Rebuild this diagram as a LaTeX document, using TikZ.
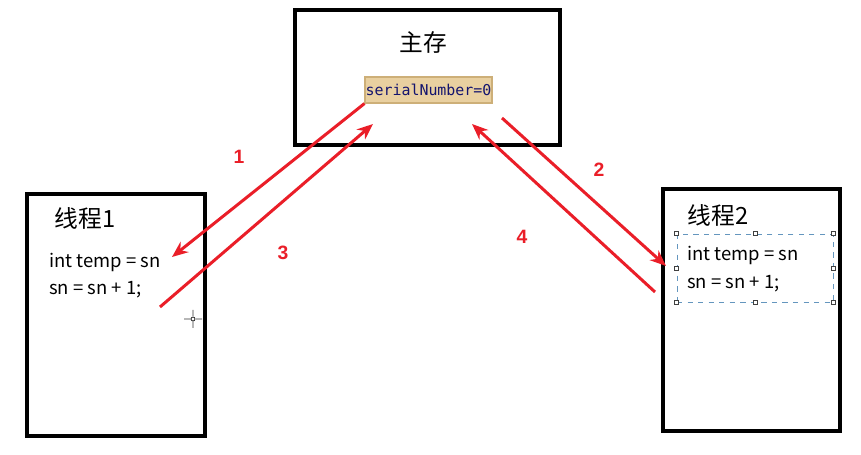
\documentclass[tikz,border=0pt]{standalone}
\usepackage{fontspec}
\setmainfont{Liberation Sans}
\setmonofont{DejaVu Sans Mono}
\newfontfamily\cjk{Noto Sans CJK SC}
\usetikzlibrary{arrows.meta,positioning}
\definecolor{signal}{RGB}{234,30,40}
\definecolor{sand}{RGB}{233,208,160}
\definecolor{sanddark}{RGB}{205,175,120}
\definecolor{navy}{RGB}{20,20,110}
\definecolor{selblue}{RGB}{100,150,190}
\tikzset{
  >={Stealth[length=3.2mm,width=2.6mm]},
  frame/.style={draw=black,line width=2.3pt,inner sep=0pt},
  title/.style={font=\cjk\fontsize{13.5}{16}\selectfont,inner sep=0pt},
  code/.style={font=\cjk\fontsize{10.5}{12}\selectfont,anchor=west,inner sep=0pt},
  flow/.style={->,draw=signal,line width=1.7pt},
  num/.style={font=\bfseries\fontsize{11}{13}\selectfont,text=signal,inner sep=0pt},
  var/.style={fill=sand,draw=sanddark,line width=0.6pt,text=navy,
    font=\ttfamily\fontsize{8.5}{10}\selectfont,inner sep=0pt,
    minimum width=2.54cm,minimum height=0.52cm},
  sel/.style={draw=selblue,dashed,line width=0.5pt,inner sep=0pt},
  grip/.style={draw=black!75,fill=white,line width=0.4pt,inner sep=0pt,minimum size=0.8mm},
}
\begin{document}
\begin{tikzpicture}[x=0.02cm,y=-0.02cm]
  \useasboundingbox[fill=white] (0,0) rectangle (861,455);
  % main memory
  \node[frame,minimum width=5.3cm,minimum height=2.7cm] (mem) at (427.5,77.5) {};
  \node[title] (memtitle) at (423,42) {主存};
  \node[var] (sn) at (428.5,90) {serialNumber=0};
  % thread 1
  \node[frame,minimum width=3.56cm,minimum height=4.84cm] (t1) at (116,315) {};
  \node[title] (t1title) at (85,218) {线程1};
  \node[code] (t1read) at (49,262) {int temp = sn};
  \node[code] (t1inc) at (49,290) {sn = sn + 1;};
  % thread 2
  \node[frame,minimum width=3.54cm,minimum height=4.84cm] (t2) at (751.5,310) {};
  \node[title] (t2title) at (718,215) {线程2};
  \node[code] (t2read) at (687,255) {int temp = sn};
  \node[code] (t2inc) at (687,284) {sn = sn + 1;};
  \node[sel,minimum width=3.12cm,minimum height=1.36cm] (pick) at (755,268) {};
  \foreach \a in {north west,north,north east,east,south east,south,south west,west}
    \node[grip] at (pick.\a) {};
  % arrows
  \coordinate (p1) at (172,257);
  \coordinate (p2a) at (502,118);
  \coordinate (p2b) at (666,266);
  \coordinate (p3a) at (160,307);
  \coordinate (p3b) at (373,124);
  \coordinate (p4a) at (655,292);
  \coordinate (p4b) at (472,124);
  \draw[flow] (sn.south west) -- (p1);
  \draw[flow] (p2a) -- (p2b);
  \draw[flow] (p3a) -- (p3b);
  \draw[flow] (p4a) -- (p4b);
  \node[num] (n1) at (239,157) {1};
  \node[num] (n2) at (599,170) {2};
  \node[num] (n3) at (283,253) {3};
  \node[num] (n4) at (522,237) {4};
  % cursor
  \draw[black!80,line width=0.5pt] (184,319) -- (190,319) (196,319) -- (202,319)
    (193,310) -- (193,316) (193,322) -- (193,328) (193,319) circle (2);
\end{tikzpicture}
\end{document}
